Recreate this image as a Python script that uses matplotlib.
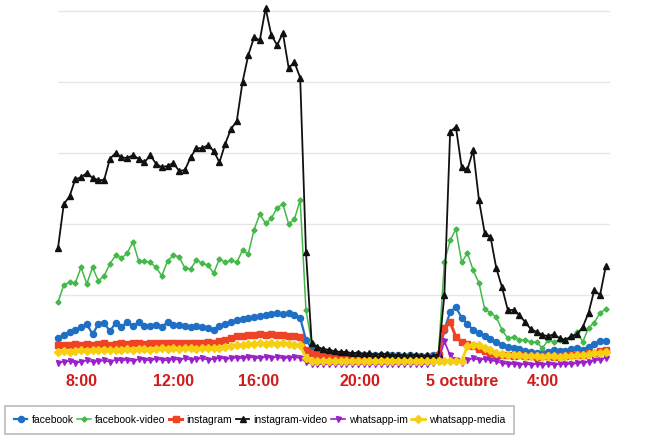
import numpy as np
import matplotlib
matplotlib.use("Agg")
import matplotlib.pyplot as plt

# 15-minute samples from 7:00 to 6:45 next day (hours since midnight of day 1)
hours = 7 + 0.25 * np.arange(96)

facebook = [
    3.9, 4.4, 4.8, 5.1, 5.5, 5.9, 4.5, 5.9, 6.1, 4.9,
    6.1, 5.5, 6.2, 5.6, 6.2, 5.6, 5.6, 5.8, 5.5, 6.2,
    5.8, 5.8, 5.6, 5.5, 5.6, 5.5, 5.4, 5.1, 5.6, 5.9,
    6.2, 6.5, 6.6, 6.8, 6.9, 7.0, 7.2, 7.3, 7.5, 7.3,
    7.5, 7.2, 6.8, 3.7, 2.5, 1.8, 1.7, 1.7, 1.6, 1.7,
    1.6, 1.6, 1.7, 1.6, 1.6, 1.5, 1.6, 1.5, 1.5, 1.5,
    1.4, 1.5, 1.4, 1.4, 1.4, 1.5, 1.7, 5.1, 7.6, 8.3,
    6.8, 5.9, 5.1, 4.6, 4.2, 3.8, 3.4, 3.0, 2.7, 2.5,
    2.4, 2.1, 2.0, 1.8, 1.8, 2.0, 2.3, 2.1, 2.1, 2.4,
    2.5, 2.3, 2.7, 3.1, 3.5, 3.5]

facebook_video = [
    9.0, 11.4, 11.8, 11.7, 13.9, 11.6, 13.9, 12.0, 12.7, 14.4,
    15.6, 15.2, 15.9, 17.5, 14.8, 14.8, 14.6, 13.9, 12.7, 14.8,
    15.6, 15.4, 13.8, 13.7, 14.9, 14.5, 14.2, 13.1, 15.1, 14.6,
    14.9, 14.6, 16.3, 15.8, 19.2, 21.4, 20.1, 20.8, 22.3, 22.8,
    20.0, 20.7, 23.4, 7.9, 3.2, 2.5, 2.3, 2.1, 2.0, 1.8,
    1.8, 1.7, 1.7, 1.6, 1.7, 1.5, 1.6, 1.5, 1.5, 1.4,
    1.5, 1.4, 1.4, 1.4, 1.3, 1.4, 2.0, 14.6, 17.7, 19.3,
    14.6, 15.9, 13.5, 11.7, 8.0, 7.5, 6.9, 5.1, 3.9, 4.1,
    3.7, 3.7, 3.4, 3.4, 2.5, 3.7, 3.4, 3.7, 3.7, 4.1,
    4.8, 3.4, 5.4, 6.1, 7.5, 8.0]

instagram = [
    2.9, 3.0, 2.9, 3.1, 3.0, 3.1, 3.0, 3.1, 3.2, 3.0,
    3.1, 3.2, 3.1, 3.2, 3.2, 3.1, 3.3, 3.2, 3.2, 3.3,
    3.2, 3.3, 3.3, 3.2, 3.3, 3.3, 3.4, 3.3, 3.5, 3.7,
    4.0, 4.2, 4.3, 4.4, 4.4, 4.5, 4.4, 4.5, 4.4, 4.4,
    4.3, 4.3, 4.1, 2.2, 1.8, 1.6, 1.5, 1.5, 1.4, 1.5,
    1.4, 1.4, 1.3, 1.4, 1.3, 1.3, 1.2, 1.3, 1.2, 1.2,
    1.2, 1.1, 1.2, 1.1, 1.1, 1.2, 1.5, 5.4, 6.2, 4.1,
    3.4, 3.1, 2.8, 2.4, 2.1, 1.8, 1.6, 1.5, 1.5, 1.4,
    1.5, 1.4, 1.4, 1.3, 1.4, 1.4, 1.3, 1.4, 1.4, 1.5,
    1.5, 1.6, 1.8, 1.9, 2.1, 2.2]

instagram_video = [
    16.6, 22.8, 23.9, 26.3, 26.6, 27.2, 26.5, 26.2, 26.2, 29.2,
    30.0, 29.4, 29.3, 29.7, 29.2, 28.7, 29.7, 28.5, 28.0, 28.2,
    28.6, 27.5, 27.6, 29.4, 30.7, 30.7, 31.1, 30.3, 28.7, 31.3,
    33.4, 34.5, 40.0, 43.8, 46.3, 45.9, 50.4, 46.6, 45.2, 46.9,
    42.0, 42.8, 40.6, 16.1, 3.2, 2.7, 2.4, 2.3, 2.1, 2.0,
    2.0, 1.8, 1.9, 1.7, 1.8, 1.6, 1.7, 1.7, 1.5, 1.6,
    1.5, 1.5, 1.6, 1.4, 1.5, 1.4, 1.7, 10.0, 33.0, 33.7,
    28.0, 27.7, 30.4, 23.4, 18.7, 18.2, 13.8, 11.1, 7.9, 7.9,
    7.2, 6.2, 5.2, 4.8, 4.4, 4.2, 4.5, 3.9, 3.7, 4.2,
    4.5, 5.5, 7.5, 10.7, 10.0, 14.1]

whatsapp_im = [
    0.5, 0.6, 0.7, 0.5, 0.6, 0.8, 0.6, 0.7, 0.8, 0.6,
    0.9, 0.8, 0.9, 0.7, 1.0, 0.9, 0.8, 1.0, 0.9, 0.8,
    1.0, 0.9, 1.1, 0.9, 1.0, 1.1, 0.9, 1.0, 1.2, 1.0,
    1.1, 1.2, 1.1, 1.3, 1.2, 1.1, 1.3, 1.2, 1.3, 1.1,
    1.2, 1.3, 1.1, 0.6, 0.3, 0.3, 0.3, 0.3, 0.3, 0.3,
    0.3, 0.3, 0.3, 0.3, 0.3, 0.3, 0.3, 0.3, 0.3, 0.3,
    0.3, 0.3, 0.3, 0.3, 0.3, 0.4, 0.8, 3.5, 1.5, 0.8,
    0.5, 0.9, 1.1, 0.9, 1.0, 0.8, 0.7, 0.4, 0.3, 0.3,
    0.2, 0.3, 0.2, 0.3, 0.2, 0.3, 0.2, 0.3, 0.3, 0.3,
    0.4, 0.5, 0.6, 0.8, 0.9, 1.2]

whatsapp_media = [
    2.0, 2.1, 2.0, 2.1, 2.2, 2.1, 2.2, 2.2, 2.3, 2.2,
    2.3, 2.3, 2.4, 2.3, 2.4, 2.4, 2.3, 2.4, 2.5, 2.4,
    2.5, 2.4, 2.5, 2.5, 2.4, 2.5, 2.6, 2.5, 2.6, 2.7,
    2.8, 2.9, 3.0, 3.1, 3.1, 3.2, 3.1, 3.2, 3.1, 3.2,
    3.1, 3.0, 2.9, 1.2, 0.7, 0.7, 0.7, 0.7, 0.7, 0.7,
    0.7, 0.7, 0.7, 0.7, 0.7, 0.7, 0.7, 0.7, 0.7, 0.7,
    0.7, 0.7, 0.7, 0.7, 0.7, 0.7, 0.7, 0.7, 0.7, 0.7,
    0.7, 2.8, 3.0, 2.9, 2.5, 2.2, 1.9, 1.7, 1.6, 1.5,
    1.5, 1.4, 1.4, 1.4, 1.3, 1.4, 1.4, 1.3, 1.4, 1.4,
    1.5, 1.6, 1.7, 1.8, 1.9, 2.0]

tick_pos = [8, 12, 15.7, 20.1, 24.5, 28]
tick_labels = ['8:00', '12:00', '16:00', '20:00', '5 octubre', '4:00']

series = [
    ('facebook', facebook, '#1f6fc5', 'o', 4.4, 1.6),
    ('facebook-video', facebook_video, '#45b84a', 'D', 2.6, 1.1),
    ('instagram', instagram, '#ef4326', 's', 4.4, 2.2),
    ('instagram-video', instagram_video, '#111111', '^', 4.2, 1.3),
    ('whatsapp-im', whatsapp_im, '#9a20c8', 'v', 3.6, 1.2),
    ('whatsapp-media', whatsapp_media, '#f7cf12', 'D', 3.8, 2.0),
]

fig = plt.figure(figsize=(6.68, 4.4), dpi=100)
ax = fig.add_axes([0.0868, 0.168, 0.826, 0.831])

for name, vals, col, mk, ms, lw in series:
    ax.plot(hours, vals, color=col, marker=mk, markersize=ms, linewidth=lw,
            label=name, clip_on=False)

ax.set_xlim(7, 30.92)
ax.set_ylim(0, 51.5)
ax.set_yticks([10, 20, 30, 40, 50])
ax.yaxis.grid(True, color='#e6e6e6', linewidth=1.0)
ax.set_axisbelow(True)
ax.tick_params(axis='y', left=False, labelleft=False)
ax.set_xticks(tick_pos)
ax.set_xticklabels(tick_labels)
ax.tick_params(axis='x', length=0, pad=6, labelcolor='#d01c1c')
for t in ax.get_xticklabels():
    t.set_fontfamily('Liberation Sans')
    t.set_fontweight('bold')
    t.set_fontsize(11.5)
for s in ax.spines.values():
    s.set_visible(False)

leg = fig.legend(loc='lower left', bbox_to_anchor=(0.0075, 0.014, 0.762, 0.058),
                 mode='expand', ncol=6, frameon=True, fancybox=False,
                 edgecolor='#aaaaaa', handlelength=1.3, handletextpad=0.4,
                 borderaxespad=0, borderpad=0.85,
                 prop={'family': 'Liberation Sans', 'size': 7.5})
leg.get_frame().set_linewidth(1.2)

fig.savefig('out.png', dpi=100)
